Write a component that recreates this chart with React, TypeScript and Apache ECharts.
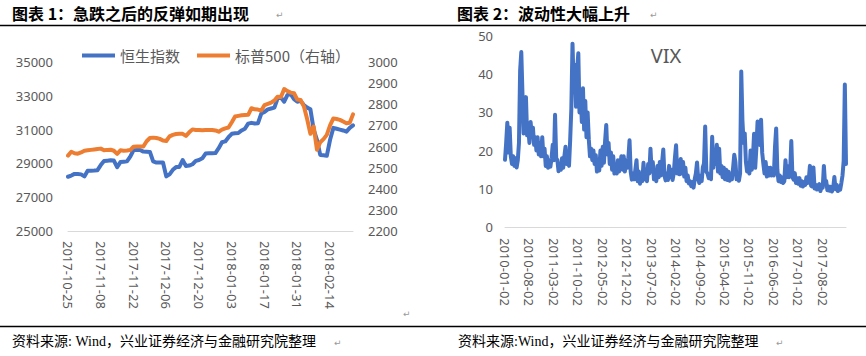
import React, { useEffect, useRef } from 'react';
import * as echarts from 'echarts';

// ---------- Chart 1: HSI vs S&P 500 (daily, weekdays from 2017-10-25) ----------
const hsiStart: [number, number, number] = [2017, 10, 25];
const hsiValues = [
  28210, 28280, 28380, 28370, 28350, 28230, 28560, 28570, 28580, 28600,
  28900, 29140, 29160, 29180, 29170, 28780, 29080, 29100, 29120, 29400,
  29780, 29800, 29790, 29700, 29690, 29680, 29120, 29050, 29060, 29050,
  28230, 28350, 28620, 28780, 28790, 29200, 28850, 28870, 28950, 29150,
  29200, 29300, 29580, 29600, 29600, 29610, 29900, 30250, 30300, 30550,
  30750, 30780, 30800, 30950, 31050, 31350, 31400, 31360, 31380, 31950,
  32050, 32200, 32250, 32300, 32850, 32900, 32650, 33050, 33100, 32800,
  32650, 32700, 32450, 32300, 32200, 31000, 30400, 29500, 29480, 29450,
  30400, 31100, 31050, 31000, 30950, 30880, 31100, 31250,
];
const spxValues = [
  2557, 2575, 2568, 2566, 2572, 2580, 2582, 2584, 2586, 2588,
  2590, 2582, 2584, 2585, 2580, 2565, 2582, 2580, 2581, 2583,
  2599, 2600, 2600, 2600, 2625, 2640, 2642, 2640, 2636, 2628,
  2626, 2648, 2655, 2659, 2660, 2660, 2650, 2667, 2681, 2678,
  2678, 2677, 2678, 2678, 2678, 2676, 2670, 2680, 2686, 2690,
  2715, 2742, 2745, 2748, 2749, 2750, 2781, 2776, 2775, 2770,
  2796, 2802, 2808, 2818, 2836, 2834, 2872, 2862, 2855, 2852,
  2822, 2820, 2790, 2730, 2660, 2694, 2585, 2620, 2635, 2655,
  2700, 2733, 2730, 2726, 2718, 2710, 2712, 2752,
];
const hsiName = '恒生指数';
const spxName = '标普500（右轴）';

// ---------- Chart 2: VIX (three readings per month, days 02 / 12 / 22, from 2010-01) ----------
const vixStartYear = 2010;
const vixDays = [2, 12, 22];
const vixValues = [
  // 2010
  17.6, 22.0, 27.3, 19.5, 26.0, 18.5, 16.5, 18.5, 16.0, 18.0, 15.6, 17.5,
  22.0, 41.0, 45.8, 35.0, 24.5, 30.0, 34.0, 24.0, 26.0, 22.0, 27.5, 24.0,
  26.0, 21.5, 23.5, 20.0, 23.5, 19.0, 22.0, 18.5, 23.5, 18.5, 20.5, 16.0,
  // 2011
  18.5, 15.5, 17.5, 15.8, 18.0, 21.5, 17.5, 29.4, 18.0, 17.5, 14.6, 16.5,
  15.0, 18.0, 15.5, 18.5, 21.0, 16.5, 19.0, 16.0, 22.8, 31.0, 48.0, 37.0,
  42.5, 31.5, 41.3, 45.5, 30.0, 36.0, 27.5, 36.3, 25.5, 33.0, 23.5, 30.0,
  // 2012
  23.0, 18.5, 20.5, 17.5, 20.0, 16.5, 18.8, 14.5, 16.0, 14.8, 20.0, 16.0,
  21.0, 16.8, 22.5, 26.7, 19.0, 22.0, 16.5, 19.5, 15.0, 18.5, 14.0, 16.0,
  14.0, 17.5, 14.5, 16.0, 18.5, 15.0, 18.5, 14.5, 17.5, 15.5, 18.0, 22.7,
  // 2013
  14.5, 12.4, 14.0, 12.5, 15.0, 17.5, 12.0, 14.5, 11.3, 13.5, 12.0, 16.8,
  12.5, 14.5, 12.0, 16.5, 14.0, 20.5, 14.5, 17.0, 12.5, 14.0, 12.0, 16.0,
  13.0, 17.0, 13.5, 17.0, 20.3, 13.5, 12.2, 14.0, 12.3, 16.0, 13.0, 15.0,
  // 2014
  12.3, 14.0, 18.1, 21.4, 14.0, 15.5, 13.8, 17.8, 14.0, 17.0, 13.2, 15.5,
  12.0, 13.5, 11.4, 12.0, 10.7, 11.8, 10.3, 12.5, 14.0, 16.9, 12.5, 11.5,
  13.5, 12.0, 15.6, 16.7, 26.3, 14.5, 14.0, 12.8, 13.5, 12.5, 23.6, 15.5,
  // 2015
  19.9, 16.5, 21.5, 14.5, 20.5, 14.0, 16.0, 13.0, 15.5, 12.5, 15.0, 12.3,
  14.5, 12.1, 13.7, 12.5, 15.5, 18.9, 17.0, 12.5, 13.5, 12.1, 14.0, 40.7,
  28.0, 22.0, 24.5, 17.0, 14.5, 15.5, 14.0, 20.0, 15.0, 18.0, 24.4, 15.5,
  // 2016
  20.7, 27.6, 22.3, 21.5, 28.1, 19.4, 16.5, 14.0, 17.0, 13.2, 15.5, 13.5,
  15.5, 13.5, 15.0, 13.5, 21.0, 25.8, 15.0, 12.0, 13.5, 11.8, 13.0, 11.5,
  12.0, 17.5, 13.0, 15.9, 13.0, 14.5, 22.5, 13.0, 12.4, 14.1, 11.5, 12.8,
  // 2017
  11.3, 12.8, 10.8, 12.0, 10.6, 11.8, 11.0, 13.0, 11.5, 12.4, 16.0, 10.8,
  10.6, 15.6, 10.1, 11.0, 9.8, 10.9, 11.2, 9.4, 10.5, 10.3, 16.0, 11.3,
  12.0, 9.6, 10.6, 9.5, 10.5, 9.3, 10.2, 13.1, 9.9, 11.0, 9.4, 10.5,
  // 2018
  9.8, 11.5, 13.5, 17.3, 37.3, 16.5,
];

const pad = (n: number) => (n < 10 ? '0' + n : '' + n);

function weekdayDates(start: [number, number, number], count: number): string[] {
  const out: string[] = [];
  let t = Date.UTC(start[0], start[1] - 1, start[2]);
  while (out.length < count) {
    const d = new Date(t);
    const wd = d.getUTCDay();
    if (wd !== 0 && wd !== 6) {
      out.push(d.getUTCFullYear() + '-' + pad(d.getUTCMonth() + 1) + '-' + pad(d.getUTCDate()));
    }
    t += 86400000;
  }
  return out;
}

function triMonthlyDates(startYear: number, days: number[], count: number): string[] {
  const out: string[] = [];
  let y = startYear;
  let m = 1;
  while (out.length < count) {
    for (const d of days) {
      if (out.length < count) out.push(y + '-' + pad(m) + '-' + pad(d));
    }
    m += 1;
    if (m > 12) {
      m = 1;
      y += 1;
    }
  }
  return out;
}

const hsiDates = weekdayDates(hsiStart, hsiValues.length);
const vixDates = triMonthlyDates(vixStartYear, vixDays, vixValues.length);

const GRAY = '#595959';
const AXIS_FONT = 'Noto Sans';
const CJK_BOLD = '"Noto Sans CJK SC"';
const BLUE = '#4472C4';
const ORANGE = '#ED7D31';

export default function App() {
  const ref = useRef<HTMLDivElement>(null);

  useEffect(() => {
    document.body.style.margin = '0';
    if (!ref.current) return;
    const chart = echarts.init(ref.current, undefined, { renderer: 'svg' });

    const plain = (v: number) => String(v);
    const tickLabel = { color: GRAY, fontSize: 13, fontFamily: AXIS_FONT };
    const retMark = (x: number, y: number) => ({
      type: 'text',
      x,
      y,
      silent: true,
      style: { text: '↵', fontSize: 9, fontFamily: 'DejaVu Sans', fill: '#9a9a9a', verticalAlign: 'middle' },
    });

    const option: any = {
      animation: false,
      backgroundColor: '#ffffff',
      legend: {
        data: [
          { name: hsiName, icon: 'rect' },
          { name: spxName, icon: 'rect' },
        ],
        left: 77,
        top: 43,
        itemWidth: 33,
        itemHeight: 4,
        itemGap: 17,
        textStyle: { color: GRAY, fontSize: 15, fontFamily: '"Noto Sans CJK SC"' },
      },
      grid: [
        { left: 68, right: 866 - 353, top: 62, bottom: 356 - 231 },
        { left: 505, right: 20, top: 36, bottom: 356 - 227 },
      ],
      xAxis: [
        {
          type: 'category',
          gridIndex: 0,
          data: hsiDates,
          boundaryGap: false,
          axisLine: { show: true, lineStyle: { color: '#d9d9d9', width: 1 } },
          axisTick: { show: false },
          axisLabel: { ...tickLabel, interval: 9, rotate: -90, margin: 10 },
          splitLine: { show: false },
        },
        {
          type: 'category',
          gridIndex: 1,
          data: vixDates,
          boundaryGap: false,
          axisLine: { show: true, lineStyle: { color: '#d9d9d9', width: 1 } },
          axisTick: { show: false },
          axisLabel: { ...tickLabel, interval: 20, rotate: -90, margin: 11 },
          splitLine: { show: false },
        },
      ],
      yAxis: [
        {
          type: 'value',
          gridIndex: 0,
          min: 25000,
          max: 35000,
          interval: 2000,
          axisLine: { show: false },
          axisTick: { show: false },
          splitLine: { show: false },
          axisLabel: { ...tickLabel, margin: 15, formatter: plain },
        },
        {
          type: 'value',
          gridIndex: 0,
          position: 'right',
          min: 2200,
          max: 3000,
          interval: 100,
          axisLine: { show: false },
          axisTick: { show: false },
          splitLine: { show: false },
          axisLabel: { ...tickLabel, margin: 15, formatter: plain },
        },
        {
          type: 'value',
          gridIndex: 1,
          min: 0,
          max: 50,
          interval: 10,
          axisLine: { show: false },
          axisTick: { show: false },
          splitLine: { show: false },
          axisLabel: { ...tickLabel, margin: 12, formatter: plain },
        },
      ],
      series: [
        {
          name: hsiName,
          type: 'line',
          xAxisIndex: 0,
          yAxisIndex: 0,
          data: hsiValues,
          symbol: 'none',
          showSymbol: false,
          itemStyle: { color: BLUE },
          lineStyle: { color: BLUE, width: 4, join: 'round', cap: 'round' },
        },
        {
          name: spxName,
          type: 'line',
          xAxisIndex: 0,
          yAxisIndex: 1,
          data: spxValues,
          symbol: 'none',
          showSymbol: false,
          itemStyle: { color: ORANGE },
          lineStyle: { color: ORANGE, width: 4, join: 'round', cap: 'round' },
        },
        {
          name: 'VIX',
          type: 'line',
          xAxisIndex: 1,
          yAxisIndex: 2,
          data: vixValues,
          symbol: 'none',
          showSymbol: false,
          itemStyle: { color: BLUE },
          lineStyle: { color: BLUE, width: 4, join: 'round', cap: 'round' },
        },
      ],
      graphic: [
        {
          type: 'text',
          x: 12,
          y: 13,
          style: {
            text: '图表 1：急跌之后的反弹如期出现',
            fontSize: 16,
            fontWeight: 'bold',
            fontFamily: CJK_BOLD,
            fill: '#000',
            verticalAlign: 'middle',
          },
        },
        {
          type: 'text',
          x: 457,
          y: 13,
          style: {
            text: '图表 2：波动性大幅上升',
            fontSize: 16,
            fontWeight: 'bold',
            fontFamily: CJK_BOLD,
            fill: '#000',
            verticalAlign: 'middle',
          },
        },
        { type: 'line', shape: { x1: 0, y1: 25.5, x2: 866, y2: 25.5 }, style: { stroke: '#000', lineWidth: 1.3 } },
        { type: 'line', shape: { x1: 0, y1: 326.5, x2: 866, y2: 326.5 }, style: { stroke: '#000', lineWidth: 1.3 } },
        {
          type: 'text',
          x: 666,
          y: 55,
          style: { text: 'VIX', fontSize: 20, fontFamily: AXIS_FONT, fill: GRAY, align: 'center', verticalAlign: 'middle' },
        },
        {
          type: 'text',
          x: 12,
          y: 341,
          style: {
            text: '资料来源: Wind，兴业证券经济与金融研究院整理',
            fontSize: 14,
            fontFamily: '"Liberation Serif", "Noto Sans CJK SC"',
            fill: '#000',
            verticalAlign: 'middle',
          },
        },
        {
          type: 'text',
          x: 458,
          y: 341,
          style: {
            text: '资料来源:Wind，兴业证券经济与金融研究院整理',
            fontSize: 14,
            fontFamily: '"Liberation Serif", "Noto Sans CJK SC"',
            fill: '#000',
            verticalAlign: 'middle',
          },
        },
        retMark(276, 15),
        retMark(650, 15),
        retMark(403, 314),
        retMark(334, 343),
        retMark(776, 343),
      ],
    };

    chart.setOption(option);
    return () => {
      chart.dispose();
    };
  }, []);

  return (
    <div
      ref={ref}
      style={{ position: 'absolute', left: 0, top: 0, width: 866, height: 356, background: '#fff' }}
    />
  );
}
